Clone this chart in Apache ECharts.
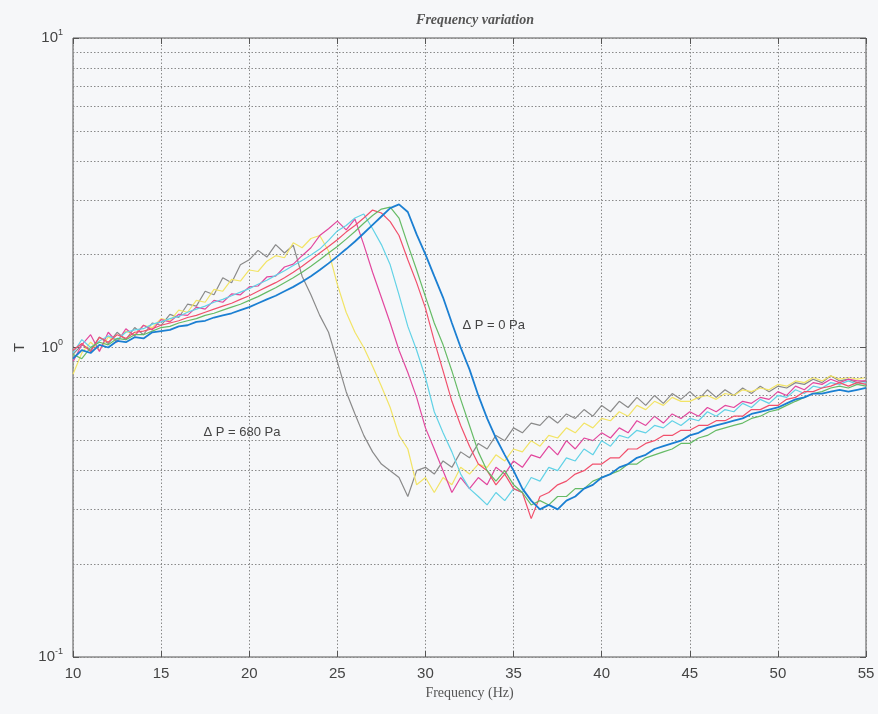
<!DOCTYPE html>
<html>
<head>
<meta charset="utf-8">
<script src="https://cdn.jsdelivr.net/npm/echarts@6/dist/echarts.min.js"></script>
<style>
html,body{margin:0;padding:0;background:#f6f7f9;}
#chart{width:878px;height:714px;}
</style>
</head>
<body>
<div id="chart"></div>
<script>
// Frequency grid (Hz)
var freq = [10,10.5,11,11.5,12,12.5,13,13.5,14,14.5,15,15.5,16,16.5,17,17.5,18,18.5,19,19.5,
20,20.5,21,21.5,22,22.5,23,23.5,24,24.5,25,25.5,26,26.5,27,27.5,28,28.5,29,29.5,
30,30.5,31,31.5,32,32.5,33,33.5,34,34.5,35,35.5,36,36.5,37,37.5,38,38.5,39,39.5,
40,40.5,41,41.5,42,42.5,43,43.5,44,44.5,45,45.5,46,46.5,47,47.5,48,48.5,49,49.5,
50,50.5,51,51.5,52,52.5,53,53.5,54,54.5,55];

// Transmissibility curves, from ΔP = 680 Pa (gray) to ΔP = 0 Pa (blue)
var grayT = [0.95,1.02,0.98,1.08,1.03,1.12,1.06,1.16,1.10,1.20,
1.18,1.28,1.25,1.38,1.36,1.52,1.48,1.68,1.62,1.85,
1.92,2.06,1.96,2.15,2.02,2.14,1.70,1.48,1.27,1.12,
0.90,0.72,0.61,0.52,0.46,0.42,0.40,0.38,0.33,0.40,
0.41,0.39,0.43,0.41,0.46,0.44,0.49,0.47,0.52,0.50,
0.55,0.53,0.57,0.56,0.60,0.57,0.61,0.59,0.63,0.60,
0.65,0.62,0.67,0.64,0.69,0.65,0.70,0.66,0.71,0.68,
0.72,0.68,0.73,0.69,0.73,0.70,0.74,0.71,0.75,0.72,
0.75,0.74,0.77,0.76,0.79,0.77,0.81,0.78,0.79,0.77,0.78];
var yellowT = [0.82,0.96,1.04,0.98,1.08,1.05,1.13,1.10,1.18,1.16,
1.24,1.22,1.32,1.30,1.42,1.40,1.54,1.52,1.66,1.64,
1.78,1.76,1.90,1.98,1.95,2.18,2.10,2.25,2.30,2.05,
1.60,1.30,1.12,1.00,0.87,0.75,0.64,0.52,0.47,0.36,
0.38,0.34,0.38,0.36,0.41,0.39,0.42,0.41,0.45,0.43,
0.47,0.46,0.50,0.48,0.52,0.51,0.55,0.53,0.57,0.55,
0.59,0.58,0.62,0.60,0.65,0.63,0.67,0.65,0.69,0.67,
0.67,0.69,0.70,0.68,0.71,0.70,0.73,0.72,0.74,0.73,
0.76,0.75,0.78,0.77,0.80,0.78,0.81,0.79,0.80,0.79,0.80];
var magentaT = [0.90,1.02,1.10,0.97,1.12,1.04,1.15,1.09,1.18,1.14,
1.23,1.21,1.28,1.27,1.35,1.33,1.42,1.40,1.49,1.48,
1.57,1.58,1.69,1.70,1.82,1.86,1.98,2.10,2.30,2.42,
2.56,2.40,2.60,2.15,1.75,1.45,1.20,0.98,0.83,0.69,
0.55,0.47,0.40,0.34,0.38,0.35,0.38,0.36,0.41,0.39,
0.43,0.41,0.45,0.44,0.48,0.45,0.50,0.47,0.51,0.50,
0.53,0.51,0.55,0.53,0.58,0.56,0.60,0.57,0.61,0.59,
0.62,0.60,0.64,0.62,0.65,0.64,0.67,0.66,0.69,0.68,
0.72,0.70,0.75,0.73,0.77,0.76,0.79,0.77,0.79,0.78,0.78];
var cyanT = [0.96,1.06,1.00,1.05,1.09,1.06,1.12,1.14,1.15,1.19,
1.21,1.24,1.26,1.30,1.33,1.36,1.40,1.43,1.47,1.51,
1.55,1.60,1.65,1.71,1.77,1.84,1.91,1.99,2.08,2.22,
2.38,2.48,2.62,2.70,2.42,2.15,1.85,1.48,1.17,0.98,
0.80,0.62,0.53,0.46,0.39,0.35,0.33,0.31,0.34,0.32,
0.35,0.34,0.38,0.37,0.41,0.40,0.44,0.43,0.47,0.45,
0.50,0.48,0.52,0.51,0.54,0.53,0.56,0.55,0.58,0.56,
0.59,0.58,0.62,0.60,0.63,0.62,0.66,0.64,0.68,0.66,
0.70,0.69,0.73,0.71,0.75,0.74,0.77,0.76,0.78,0.76,0.77];
var redT = [0.98,1.03,0.97,1.08,1.04,1.10,1.07,1.12,1.13,1.15,
1.18,1.20,1.22,1.25,1.27,1.30,1.33,1.36,1.39,1.43,
1.47,1.52,1.57,1.62,1.68,1.75,1.83,1.92,2.02,2.12,
2.23,2.36,2.48,2.62,2.78,2.72,2.55,2.30,1.92,1.62,
1.34,1.05,0.84,0.67,0.56,0.48,0.42,0.40,0.36,0.39,
0.35,0.34,0.28,0.33,0.34,0.36,0.37,0.39,0.40,0.42,
0.42,0.44,0.44,0.47,0.47,0.49,0.50,0.52,0.52,0.54,
0.54,0.56,0.56,0.58,0.58,0.60,0.60,0.63,0.63,0.65,
0.65,0.68,0.69,0.72,0.72,0.74,0.75,0.77,0.75,0.77,0.76];
var greenT = [0.95,0.92,1.00,1.04,1.02,1.07,1.06,1.10,1.10,1.13,
1.16,1.17,1.20,1.22,1.24,1.27,1.29,1.32,1.35,1.38,
1.42,1.46,1.51,1.56,1.62,1.68,1.75,1.83,1.92,2.02,
2.12,2.24,2.37,2.52,2.67,2.80,2.84,2.62,2.15,1.78,
1.46,1.20,1.02,0.84,0.68,0.56,0.46,0.40,0.37,0.40,
0.36,0.34,0.31,0.32,0.31,0.33,0.33,0.35,0.35,0.37,
0.38,0.39,0.40,0.42,0.42,0.44,0.45,0.46,0.47,0.49,
0.49,0.51,0.52,0.54,0.55,0.56,0.57,0.59,0.60,0.62,
0.63,0.65,0.67,0.69,0.71,0.72,0.74,0.75,0.74,0.76,0.75];
var blueT = [0.92,0.98,0.96,1.02,1.00,1.05,1.04,1.08,1.07,1.12,
1.13,1.14,1.17,1.18,1.21,1.22,1.25,1.27,1.29,1.32,
1.35,1.39,1.43,1.47,1.52,1.57,1.63,1.70,1.78,1.87,
1.97,2.08,2.20,2.34,2.49,2.65,2.82,2.90,2.74,2.32,
2.00,1.70,1.45,1.20,1.00,0.85,0.70,0.59,0.51,0.45,
0.40,0.35,0.32,0.30,0.31,0.30,0.32,0.33,0.35,0.36,
0.38,0.39,0.41,0.42,0.44,0.45,0.47,0.48,0.49,0.50,
0.52,0.53,0.55,0.56,0.57,0.58,0.59,0.61,0.62,0.63,
0.64,0.66,0.68,0.69,0.71,0.71,0.72,0.73,0.72,0.73,0.74];

var seriesNames = ['680 Pa','yellow','magenta','cyan','red','green','0 Pa'];
var seriesColors = ['#8a8a8a','#f2e466','#e2479e','#62d2e6','#f1506c','#66bb66','#1b7fd2'];
var seriesValues = [grayT, yellowT, magentaT, cyanT, redT, greenT, blueT];

// Axis ticks and labels
var xTicks = [10,15,20,25,30,35,40,45,50,55];
var yMinorGrid = [0.2,0.3,0.4,0.5,0.6,0.7,0.8,0.9,2,3,4,5,6,7,8,9];

// Annotations (position in data units)
var labelHigh = {text:'\u0394 P = 0 Pa', f:32.1, t:1.18};
var labelLow = {text:'\u0394 P = 680 Pa', f:17.4, t:0.53};

var chart = echarts.init(document.getElementById('chart'), null, {renderer:'canvas'});

function pairs(vals){ return freq.map(function(f,i){ return [f, vals[i]]; }); }

var gridLineStyle = {color:'#8a8a8a', width:1, type:[1.5,2]};
var series = [];
series.push({
  type:'line', data:[], silent:true, z:1,
  markLine:{
    silent:true, symbol:['none','none'], label:{show:false},
    lineStyle:gridLineStyle,
    data: yMinorGrid.map(function(v){ return {yAxis:v}; })
  }
});
seriesValues.forEach(function(vals, k){
  series.push({
    name: seriesNames[k], type:'line', data: pairs(vals),
    showSymbol:false, symbol:'none', smooth:false, z:2+k,
    lineStyle:{color:seriesColors[k], width: k===6 ? 1.8 : 1.2},
    itemStyle:{color:seriesColors[k]},
    emphasis:{disabled:true}
  });
});
var annStyle = {show:true, position:'right', distance:0, color:'#444', fontSize:13, fontFamily:'Liberation Sans, Arial, sans-serif'};
series.push({
  type:'line', data:[], silent:true, z:20,
  markPoint:{
    silent:true, symbol:'circle', symbolSize:0,
    data:[
      {coord:[labelHigh.f, labelHigh.t], label:Object.assign({formatter:labelHigh.text}, annStyle)},
      {coord:[labelLow.f, labelLow.t], label:Object.assign({formatter:labelLow.text}, annStyle)}
    ]
  }
});

chart.setOption({
  animation:false,
  backgroundColor:'#f6f7f9',
  title:{
    text:'Frequency variation', left:470, top:8, textAlign:'center',
    textStyle:{fontFamily:'Liberation Serif, Times New Roman, serif', fontStyle:'italic', fontWeight:'bold', fontSize:14, color:'#555'}
  },
  grid:{left:73, right:12, top:38, bottom:57, show:true, borderColor:'#555', borderWidth:1, backgroundColor:'transparent'},
  xAxis:[{
    type:'value', min:10, max:55, interval:5, position:'bottom',
    name:'Frequency (Hz)', nameLocation:'middle', nameGap:29,
    nameTextStyle:{fontFamily:'Liberation Serif, Times New Roman, serif', fontSize:14, color:'#555'},
    axisLine:{show:false},
    axisTick:{show:true, inside:true, length:6, lineStyle:{color:'#555'}},
    axisLabel:{color:'#444', fontSize:15, margin:9, fontFamily:'Liberation Sans, Arial, sans-serif'},
    splitLine:{show:true, lineStyle:gridLineStyle}
  },{
    type:'value', min:10, max:55, interval:5, position:'top',
    axisLine:{show:false},
    axisTick:{show:true, inside:true, length:6, lineStyle:{color:'#555'}},
    axisLabel:{show:false}, splitLine:{show:false}
  }],
  yAxis:[{
    type:'log', logBase:10, min:0.1, max:10,
    name:'T', nameLocation:'middle', nameGap:40, nameRotate:90,
    nameTextStyle:{fontFamily:'Liberation Sans, Arial, sans-serif', fontSize:15, color:'#444'},
    axisLine:{show:false},
    axisTick:{show:true, inside:true, length:6, lineStyle:{color:'#555'}},
    axisLabel:{
      margin:10,
      formatter:function(v){ var e = Math.round(Math.log10(v)); return '{b|10}{e|' + e + '}'; },
      rich:{
        b:{fontSize:15, color:'#444', fontFamily:'Liberation Sans, Arial, sans-serif'},
        e:{fontSize:9, color:'#444', fontFamily:'Liberation Sans, Arial, sans-serif', padding:[0,0,10,0]}
      }
    },
    splitLine:{show:true, lineStyle:gridLineStyle}
  },{
    type:'log', logBase:10, min:0.1, max:10, position:'right',
    axisLine:{show:false},
    axisTick:{show:true, inside:true, length:6, lineStyle:{color:'#555'}},
    axisLabel:{show:false}, splitLine:{show:false}
  }],
  series: series
});
</script>
</body>
</html>
